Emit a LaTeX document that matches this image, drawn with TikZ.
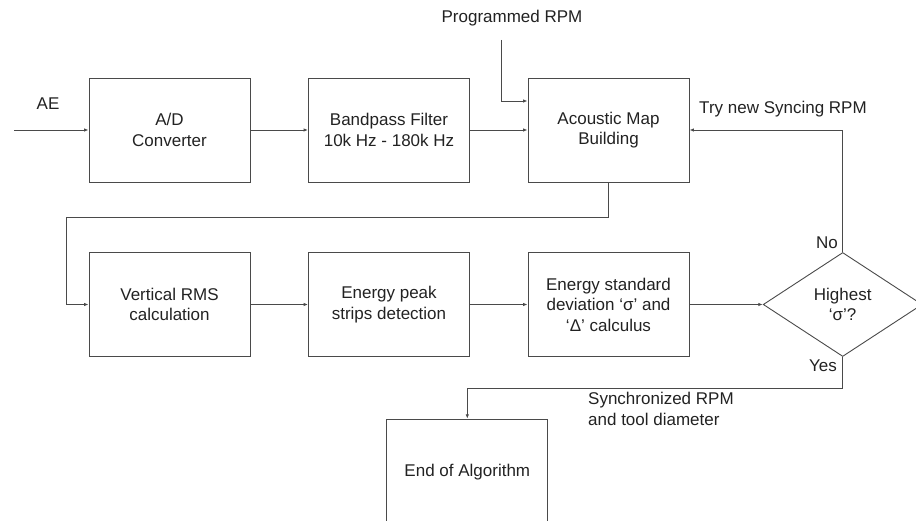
\documentclass[tikz,border=0pt]{standalone}
\usepackage{fontspec}
\setmainfont{Liberation Sans}
\usetikzlibrary{shapes.geometric,arrows.meta}
\definecolor{linec}{HTML}{4A4A4A}
\definecolor{textc}{HTML}{222222}
\tikzset{
  every node/.style={text=textc, font=\fontsize{17}{20.5}\selectfont},
  blk/.style={draw=linec, line width=0.9pt, minimum width=161pt, minimum height=104pt, inner sep=0pt, align=center},
  dec/.style={draw=linec, line width=0.9pt, diamond, minimum width=159pt, minimum height=104pt, inner sep=0pt, align=center},
  lbl/.style={inner sep=0pt},
  arr/.style={draw=linec, line width=0.9pt, -{Latex[length=4.5pt,width=3.5pt]}}
}
\begin{document}
\begin{tikzpicture}[x=1pt,y=-1pt]
\useasboundingbox (0,0) rectangle (916,521);
\begin{scope}
\clip (0,0) rectangle (916,521);
% row 1
\node[blk] (ad) at (169.5,130) {A/D\\Converter};
\node[blk] (bp) at (389,130) {Bandpass Filter\\10k Hz - 180k Hz};
\node[blk] (am) at (608.5,130) {Acoustic Map\\Building};
% row 2
\node[blk] (vr) at (169.5,304.5) {Vertical RMS\\calculation};
\node[blk] (ep) at (389,304.5) {Energy peak\\strips detection};
\node[blk] (sd) at (608.5,304.5) {Energy standard\\deviation ‘σ’ and\\‘Δ’ calculus};
\node[dec] (hi) at (842.7,304.5) {Highest\\‘σ’?};
\node[blk, minimum height=105pt] (end) at (467.3,471.7) {End of Algorithm};
% labels
\node[lbl] (ae) at (48,104) {AE};
\node[lbl] (prog) at (512,18) {Programmed RPM};
\node[lbl] (try) at (783,109) {Try new Syncing RPM};
\node[lbl] (no) at (827,243) {No};
\node[lbl] (yes) at (823,366) {Yes};
\node[lbl, anchor=west, align=left] (sync) at (588,409) {Synchronized RPM\\and tool diameter};
% coordinates
\coordinate (aein) at (14,130);
\coordinate (progs) at (501.5,40);
\coordinate (lp) at (66,217.5);
\coordinate (yc) at (467.3,388);
% connectors
\draw[arr] (aein) -- (ad);
\draw[arr] (ad) -- (bp);
\draw[arr] (bp) -- (am);
\draw[arr] (progs) |- ([yshift=29pt]am.west);
\draw[arr] (hi.north) |- (am.east);
\draw[arr] (am.south) |- (lp) |- (vr.west);
\draw[arr] (vr) -- (ep);
\draw[arr] (ep) -- (sd);
\draw[arr] (sd) -- (hi);
\draw[arr] (hi.south) |- (yc) -- (end.north);
\end{scope}
\end{tikzpicture}
\end{document}
